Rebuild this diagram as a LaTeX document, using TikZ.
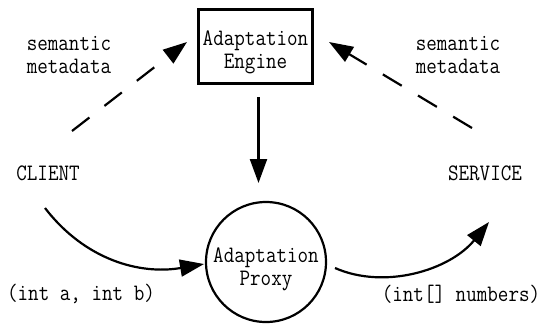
\documentclass[tikz,border=0pt]{standalone}
\usetikzlibrary{arrows.meta}
\newcommand{\tall}[1]{\scalebox{1}[1.15]{#1}}
\begin{document}
\begin{tikzpicture}[x=1pt,y=-1pt,
  lbl/.style={font=\ttfamily\fontsize{20.5}{23}\selectfont, align=center, inner sep=0pt},
  conn/.style={line width=2.2pt, -{Triangle[length=24pt,width=17pt]}},
  dashconn/.style={conn, dash pattern=on 22pt off 19pt}]
\useasboundingbox (0,0) rectangle (541,325);
% components
\node[draw, line width=2.6pt, minimum width=114pt, minimum height=74pt] (engine) at (255.5,46.5) {};
\node[lbl] (engtxt) at (engine.center) [yshift=-5.5pt] {\tall{Adaptation}\\\tall{Engine}};
\node[draw, circle, line width=2.2pt, minimum size=120pt, inner sep=0pt] (proxy) at (266,262) {};
\node[lbl] (proxtxt) at (proxy.center) [yshift=-7.5pt] {\tall{Adaptation}\\\tall{Proxy}};
\node[lbl] (client) at (48,173) {\tall{CLIENT}};
\node[lbl] (service) at (485,173) {\tall{SERVICE}};
% annotations
\node[lbl] (semL) at (69,55) {\tall{semantic}\\\tall{metadata}};
\node[lbl] (semR) at (458,55) {\tall{semantic}\\\tall{metadata}};
\node[lbl] (argsL) at (81,294) {\tall{(int a, int b)}};
\node[lbl] (argsR) at (461,294) {\tall{(int[] numbers)}};
% connector end points
\coordinate (cdash) at (72,131);
\coordinate (sdash) at (472,128);
\coordinate (engtip) at (187,42);
\coordinate (engtipR) at (329,42);
\coordinate (engout) at (258.5,97);
\coordinate (proxin) at (258.5,183);
\coordinate (cout) at (45,208);
\coordinate (proxL) at (204,264);
\coordinate (proxR) at (335,268);
\coordinate (sin) at (489,222);
% connectors
\draw[dashconn] (cdash) -- (engtip);
\draw[dashconn] (sdash) -- (engtipR);
\draw[conn] (engout) -- (proxin);
\draw[conn] (cout) .. controls (85,260) and (140,275) .. (proxL);
\draw[conn] (proxR) .. controls (385,290) and (450,270) .. (sin);
\end{tikzpicture}
\end{document}
